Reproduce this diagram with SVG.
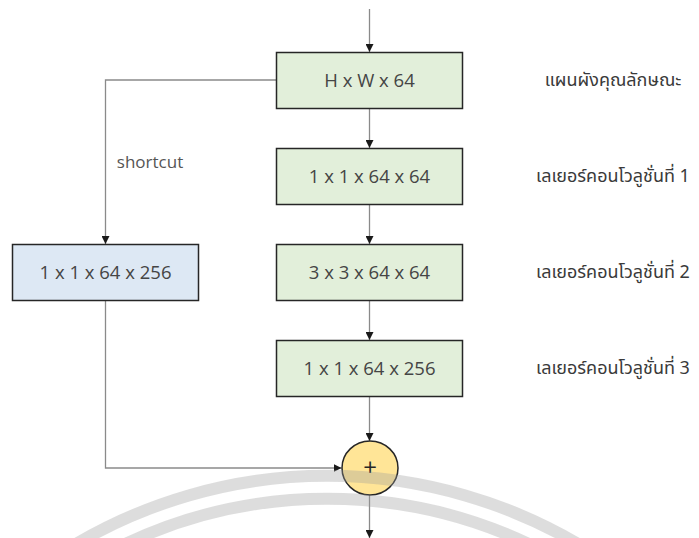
<svg xmlns="http://www.w3.org/2000/svg" width="699" height="538" viewBox="0 0 699 538">
  <defs>
    <marker id="arrow" viewBox="0 0 10 10" refX="10" refY="5" markerWidth="8" markerHeight="8" markerUnits="userSpaceOnUse" orient="auto">
      <path d="M0,0 L10,5 L0,10 Z" fill="#1a1a1a"/>
    </marker>
    <style>
      .box { stroke: #262626; stroke-width: 1.5; }
      .layer { fill: #e2efda; }
      .proj { fill: #dde8f4; }
      .sum { fill: #ffe597; stroke: #262626; stroke-width: 1.5; }
      .lbl { font-family: "Open Sans", "Noto Sans", sans-serif; font-size: 18.5px; fill: #454545; text-anchor: middle; }
      .edge-lbl { font-family: "Open Sans", "Noto Sans", sans-serif; font-size: 17px; fill: #555555; text-anchor: middle; }
      .op { font-family: "Open Sans", "Noto Sans", sans-serif; font-size: 24px; fill: #262626; text-anchor: middle; }
      .note { font-family: "Noto Sans Thai", "Tahoma", "Noto Sans", "DejaVu Sans", sans-serif; font-size: 18px; fill: #3a3a3a; text-anchor: middle; }
      .edge { fill: none; stroke: #8a8a8a; stroke-width: 1.3; }
      .mark { fill: none; stroke: #9a9a9a; stroke-opacity: 0.34; stroke-width: 12; }
    </style>
  </defs>

  <rect width="699" height="538" fill="#ffffff"/>

  <!-- connectors -->
  <g id="connectors">
    <line class="edge" x1="369.5" y1="9" x2="369.5" y2="52" marker-end="url(#arrow)"/>
    <line class="edge" x1="369.5" y1="108" x2="369.5" y2="148" marker-end="url(#arrow)"/>
    <line class="edge" x1="369.5" y1="204" x2="369.5" y2="244" marker-end="url(#arrow)"/>
    <line class="edge" x1="369.5" y1="300" x2="369.5" y2="340" marker-end="url(#arrow)"/>
    <line class="edge" x1="369.5" y1="396" x2="369.5" y2="441" marker-end="url(#arrow)"/>
    <line class="edge" x1="369.5" y1="495" x2="369.5" y2="538" marker-end="url(#arrow)"/>
    <polyline class="edge" points="276,80 105.5,80 105.5,244" marker-end="url(#arrow)"/>
    <polyline class="edge" points="105.5,300 105.5,468 341.5,468" marker-end="url(#arrow)"/>
    <text class="edge-lbl" x="150" y="168">shortcut</text>
  </g>

  <!-- main path -->
  <g id="feature-map">
    <rect class="box layer" x="276.5" y="52.5" width="186" height="56"/>
    <text class="lbl" x="369.5" y="87">H x W x 64</text>
  </g>
  <g id="conv1">
    <rect class="box layer" x="276.5" y="148.5" width="186" height="56"/>
    <text class="lbl" x="369.5" y="183">1 x 1 x 64 x 64</text>
  </g>
  <g id="conv2">
    <rect class="box layer" x="276.5" y="244.5" width="186" height="56"/>
    <text class="lbl" x="369.5" y="279">3 x 3 x 64 x 64</text>
  </g>
  <g id="conv3">
    <rect class="box layer" x="276.5" y="340.5" width="186" height="56"/>
    <text class="lbl" x="369.5" y="375">1 x 1 x 64 x 256</text>
  </g>

  <!-- projection shortcut -->
  <g id="projection">
    <rect class="box proj" x="12.5" y="244.5" width="186" height="56"/>
    <text class="lbl" x="105.5" y="279">1 x 1 x 64 x 256</text>
  </g>

  <!-- element-wise addition -->
  <g id="add">
    <ellipse class="sum" cx="370" cy="468" rx="28" ry="27"/>
    <text class="op" x="370" y="476">+</text>
  </g>

  <!-- right-hand captions -->
  <g id="captions">
    <text class="note" x="613" y="86">แผนผังคุณลักษณะ</text>
    <text class="note" x="613" y="182">เลเยอร์คอนโวลูชั่นที่ 1</text>
    <text class="note" x="613" y="278">เลเยอร์คอนโวลูชั่นที่ 2</text>
    <text class="note" x="613" y="374">เลเยอร์คอนโวลูชั่นที่ 3</text>
  </g>

  <!-- faint seal arcs along the bottom -->
  <g id="seal">
    <path class="mark" d="M66,550 A496,496 0 0 1 588,550"/>
    <path class="mark" d="M113,550 A473,473 0 0 1 541,550"/>
  </g>
</svg>
